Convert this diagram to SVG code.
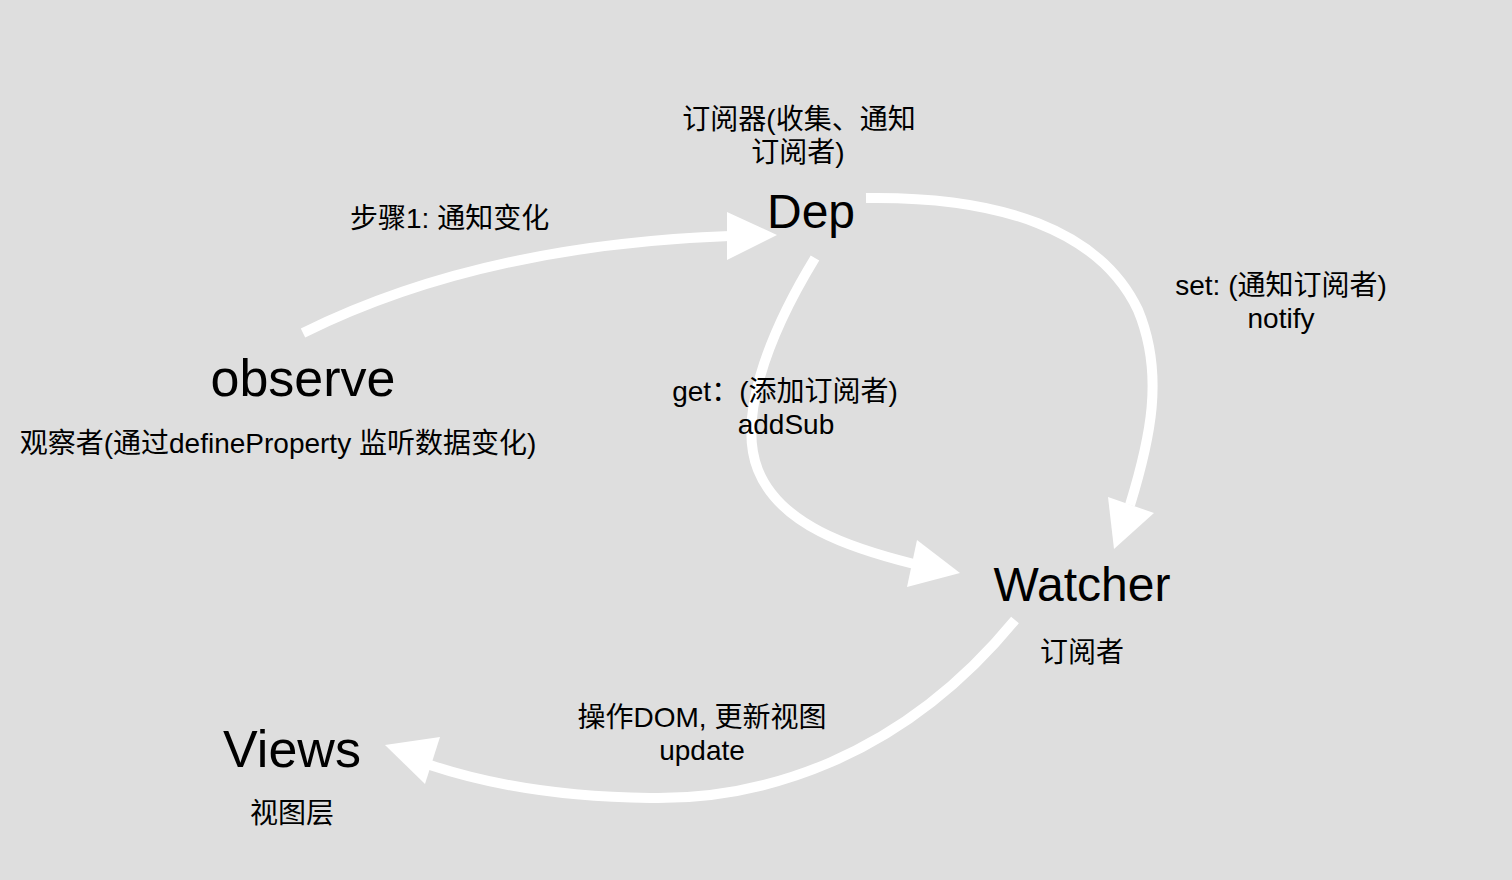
<svg xmlns="http://www.w3.org/2000/svg" width="1512" height="880" viewBox="0 0 1512 880">
<style>
.bg{fill:#dedede}
.c{fill:none;stroke:#ffffff;stroke-width:10}
.h{fill:#ffffff}
text{font-family:"Liberation Sans","Noto Sans CJK SC",sans-serif;fill:#000}
.t{font-size:28px}
.big{font-size:48px}
.big2{font-size:52px}
</style>
<rect class="bg" x="0" y="0" width="1512" height="880"/>
<g id="connectors">
<path class="c" d="M303,333 Q480,245 730,236"/>
<polygon class="h" points="727,212 777,235 727,260"/>
<path class="c" d="M815,258 C765,340 738,420 758,470 C780,525 850,548 914,564"/>
<polygon class="h" points="917,540 960,573 907,587"/>
<path class="c" d="M866,198 C1000,196 1100,230 1138,310 C1165,375 1150,440 1130,505"/>
<polygon class="h" points="1108,497 1154,513 1114,549"/>
<path class="c" d="M1015,620 C900,760 760,800 650,798 C560,797 490,785 430,765"/>
<polygon class="h" points="440,737 385,745 425,784"/>
</g>
<g id="dep">
<text class="t" x="799" y="129" text-anchor="middle">订阅器(收集、通知</text>
<text class="t" x="798" y="162" text-anchor="middle">订阅者)</text>
<text class="big" x="811" y="228" text-anchor="middle">Dep</text>
</g>
<g id="step1">
<text class="t" x="350" y="228">步骤1: 通知变化</text>
</g>
<g id="observe">
<text class="big2" x="303" y="396" text-anchor="middle">observe</text>
<text class="t" x="278" y="453" text-anchor="middle">观察者(通过defineProperty 监听数据变化)</text>
</g>
<g id="get">
<text class="t" x="785" y="401" text-anchor="middle">get：(添加订阅者)</text>
<text class="t" x="786" y="434" text-anchor="middle">addSub</text>
</g>
<g id="set">
<text class="t" x="1281" y="295" text-anchor="middle">set: (通知订阅者)</text>
<text class="t" x="1281" y="328" text-anchor="middle">notify</text>
</g>
<g id="watcher">
<text class="big" x="1082" y="601" text-anchor="middle">Watcher</text>
<text class="t" x="1082" y="662" text-anchor="middle">订阅者</text>
</g>
<g id="update">
<text class="t" x="702" y="727" text-anchor="middle">操作DOM, 更新视图</text>
<text class="t" x="702" y="760" text-anchor="middle">update</text>
</g>
<g id="views">
<text class="big2" x="292" y="767" text-anchor="middle">Views</text>
<text class="t" x="292" y="823" text-anchor="middle">视图层</text>
</g>
</svg>
